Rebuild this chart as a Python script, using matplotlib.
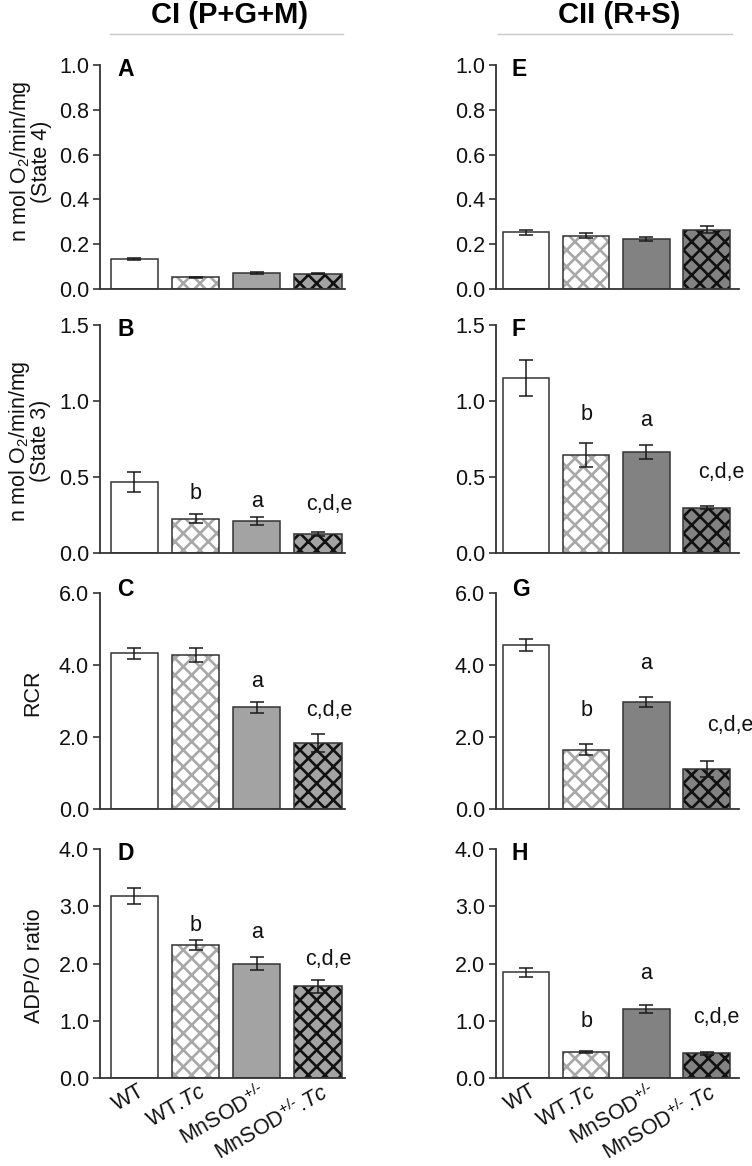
import matplotlib
matplotlib.use('Agg')
import numpy as np
import matplotlib.pyplot as plt
from matplotlib.transforms import ScaledTranslation

plt.rcParams['font.family'] = ['Liberation Sans', 'DejaVu Sans']
plt.rcParams['mathtext.fontset'] = 'custom'
plt.rcParams['mathtext.rm'] = 'Liberation Sans'
plt.rcParams['mathtext.it'] = 'Liberation Sans:italic'
plt.rcParams['mathtext.bf'] = 'Liberation Sans:bold'
plt.rcParams['hatch.linewidth'] = 1.9

# groups (same order in every panel)
groups = ['WT', 'WT.$\\it{Tc}$', 'MnSOD$^{+/\\text{-}}$', 'MnSOD$^{+/\\text{-}}$.$\\it{Tc}$']

# Complex I (P+G+M)
state4_ci = [0.135, 0.052, 0.072, 0.068]
state4_ci_err = [0.005, 0.003, 0.003, 0.003]
state3_ci = [0.465, 0.225, 0.21, 0.125]
state3_ci_err = [0.065, 0.03, 0.025, 0.015]
rcr_ci = [4.32, 4.28, 2.83, 1.82]
rcr_ci_err = [0.15, 0.2, 0.15, 0.25]
adpo_ci = [3.18, 2.32, 2.0, 1.6]
adpo_ci_err = [0.14, 0.09, 0.11, 0.11]

# Complex II (R+S)
state4_cii = [0.253, 0.238, 0.222, 0.265]
state4_cii_err = [0.01, 0.012, 0.008, 0.015]
state3_cii = [1.15, 0.645, 0.665, 0.298]
state3_cii_err = [0.12, 0.08, 0.045, 0.008]
rcr_cii = [4.55, 1.65, 2.97, 1.12]
rcr_cii_err = [0.17, 0.15, 0.15, 0.22]
adpo_cii = [1.85, 0.45, 1.21, 0.43]
adpo_cii_err = [0.08, 0.015, 0.07, 0.02]

# significance letters: (group index, text, y)
sig_B = [(1, 'b', 0.39), (2, 'a', 0.34), (3, 'c,d,e', 0.32)]
sig_C = [(2, 'a', 3.54), (3, 'c,d,e', 2.73)]
sig_D = [(1, 'b', 2.67), (2, 'a', 2.54), (3, 'c,d,e', 2.07)]
sig_F = [(1, 'b', 0.91), (2, 'a', 0.87), (3, 'c,d,e', 0.53)]
sig_G = [(1, 'b', 2.73), (2, 'a', 4.03), (3, 'c,d,e', 2.33)]
sig_H = [(1, 'b', 0.98), (2, 'a', 1.82), (3, 'c,d,e', 1.05)]

W, H = 752, 1166
fig = plt.figure(figsize=(W / 100, H / 100), dpi=100)

# pixel boxes (top, bottom) of each row
rows_px = [(65, 289), (325, 553), (593, 809), (849, 1078)]
cols_px = [(100, 345), (496, 739)]
xlims = [(-0.56, 3.44), (-0.5, 3.54)]
mnsod_grey = ['#a3a3a3', '#828282']

ylabels = ['n mol O$_2$/min/mg\n(State 4)', 'n mol O$_2$/min/mg\n(State 3)', 'RCR', 'ADP/O ratio']
ylabel_pos = [(-0.195, 0.57), (-0.2, 0.49), (-0.23, 0.54), (-0.225, 0.49)]
ylims = [1.0, 1.5, 6.0, 4.0]
yticks = [np.arange(0, 1.01, 0.2), np.arange(0, 1.51, 0.5), np.arange(0, 6.1, 2.0), np.arange(0, 4.1, 1.0)]

panels = [
    [('A', state4_ci, state4_ci_err, []), ('E', state4_cii, state4_cii_err, [])],
    [('B', state3_ci, state3_ci_err, sig_B), ('F', state3_cii, state3_cii_err, sig_F)],
    [('C', rcr_ci, rcr_ci_err, sig_C), ('G', rcr_cii, rcr_cii_err, sig_G)],
    [('D', adpo_ci, adpo_ci_err, sig_D), ('H', adpo_cii, adpo_cii_err, sig_H)],
]
cde_shift = [[0.19, 0.25], [0.19, 0.25], [0.19, 0.4], [0.17, 0.17]]

x = np.arange(len(groups))
bw = 0.77
edge = '#333333'

for r, (top, bot) in enumerate(rows_px):
    for c, (left, right) in enumerate(cols_px):
        ax = fig.add_axes([left / W, 1 - bot / H, (right - left) / W, (bot - top) / H])
        letter, vals, errs, sigs = panels[r][c]
        fills = ['white', 'white', mnsod_grey[c], mnsod_grey[c]]
        hatch_cols = ['white', '#a8a8a8', mnsod_grey[c], '#111111']
        hatches = [None, 'xx', None, 'xx']
        for i in range(4):
            ax.bar(x[i], vals[i], width=bw, color=fills[i], edgecolor=hatch_cols[i],
                   hatch=hatches[i], linewidth=0, zorder=2)
        ax.bar(x, vals, width=bw, color='none', edgecolor=edge, linewidth=1.1, zorder=3)
        ax.errorbar(x, vals, yerr=errs, fmt='none', ecolor='#1a1a1a', elinewidth=1.1,
                    capsize=4.8, capthick=1.1, zorder=4)
        for gi, txt, yv in sigs:
            dx = cde_shift[r][c] if txt == 'c,d,e' else 0
            ax.text(x[gi] + dx, yv, txt, ha='center', va='center', fontsize=15.5, color='#111111',
                    clip_on=False)
        ax.set_xlim(*xlims[c])
        ax.set_ylim(0, ylims[r])
        ax.set_yticks(yticks[r])
        ax.set_yticklabels(['%.1f' % v for v in yticks[r]])
        ax.tick_params(axis='y', labelsize=15.5, length=5, width=1.2, color='#333333', pad=3,
                       labelcolor='#111111')
        ax.set_xticks(x)
        ax.tick_params(axis='x', length=0, pad=2)
        if r == 3:
            ax.set_xticklabels(groups, rotation=30, ha='right', fontsize=15.5, color='#111111')
            off = ScaledTranslation(0.14, 0, fig.dpi_scale_trans)
            for lab in ax.get_xticklabels():
                lab.set_transform(lab.get_transform() + off)
        else:
            ax.set_xticklabels([])
        for s in ['top', 'right']:
            ax.spines[s].set_visible(False)
        for s in ['left', 'bottom']:
            ax.spines[s].set_color('#333333')
            ax.spines[s].set_linewidth(1.3)
        ax.text(0.07 if c == 0 else 0.065, 1.015 if r == 2 else 0.98, letter,
                transform=ax.transAxes, ha='left', va='center', fontsize=16.5, fontweight='bold')
        if c == 0:
            ax.set_ylabel(ylabels[r], fontsize=15.5, linespacing=0.88, color='#111111')
            ax.yaxis.set_label_coords(*ylabel_pos[r])

# column headers
fig.text(230 / W, 1 - 15 / H, 'CI (P+G+M)', ha='center', va='center', fontsize=21, fontweight='bold')
fig.text(619 / W, 1 - 15 / H, 'CII (R+S)', ha='center', va='center', fontsize=21, fontweight='bold')
fig.add_artist(plt.Line2D([110 / W, 343 / W], [1 - 34 / H] * 2, color='#c8c8c8', lw=1))
fig.add_artist(plt.Line2D([498 / W, 732 / W], [1 - 34 / H] * 2, color='#c8c8c8', lw=1))

fig.savefig('out.png', dpi=100)
